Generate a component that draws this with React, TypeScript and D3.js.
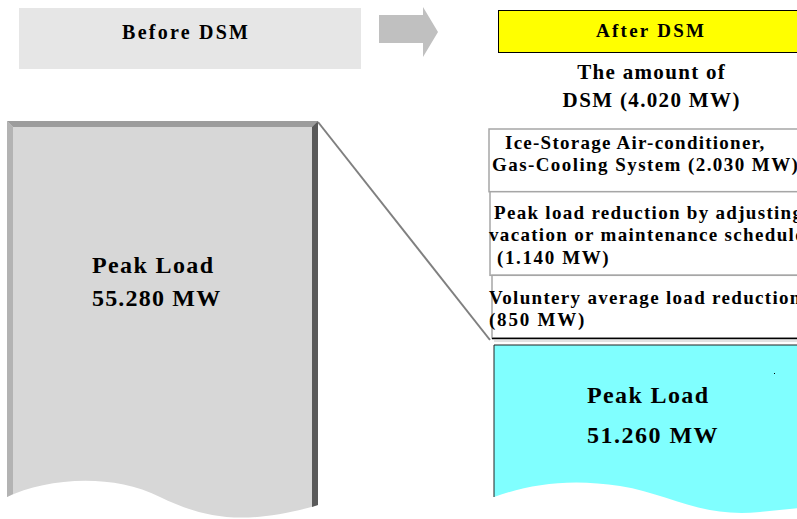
import { useEffect, useRef } from 'react';
import * as d3 from 'd3';

const STAGES = ['Before DSM', 'After DSM'];
const PEAK_LOAD_MW = [55280, 51260];
const DSM_LABELS = [
  ['Ice-Storage Air-conditioner,', 'Gas-Cooling System'],
  ['Peak load reduction by adjusting', 'vacation or maintenance schedule'],
  ['Voluntery average load reduction'],
];
const DSM_MW = [2030, 1140, 850];
const DSM_VALUE_ON_OWN_LINE = [false, true, true];

const SERIF = "'Liberation Serif', 'Times New Roman', serif";

export default function App() {
  const svgRef = useRef<SVGSVGElement>(null);

  useEffect(() => {
    const el = svgRef.current;
    if (!el) return;
    const svg = d3.select(el);
    svg.selectAll('*').remove();

    const W = 797;
    const H = 519;
    svg.attr('width', W).attr('height', H);

    // 55280 -> "55.280"
    const fmt = d3.formatLocale({ decimal: ',', thousands: '.', grouping: [3], currency: ['', ''] }).format(',d');

    // text helper: widens the glyph run like the original slide
    const addText = (
      x: number, y: number, str: string, size: number, stretch: number, anchor: 'start' | 'middle' = 'start',
    ) => {
      const t = svg.append('text')
        .attr('x', x).attr('y', y)
        .attr('font-family', SERIF).attr('font-weight', 700)
        .attr('font-size', size).attr('fill', '#000')
        .text(str);
      const natural = (t.node() as SVGTextElement).getComputedTextLength();
      const len = natural * stretch;
      if (stretch !== 1) t.attr('textLength', len).attr('lengthAdjust', 'spacing');
      if (anchor === 'middle') t.attr('x', x - len / 2);
      return t;
    };

    // header
    const stageX = d3.scaleOrdinal<string, number>().domain(STAGES).range([185, 650]);

    svg.append('rect').attr('x', 19).attr('y', 8).attr('width', 342).attr('height', 61).attr('fill', '#e6e6e6');
    svg.append('rect').attr('x', 498.5).attr('y', 10.5).attr('width', 310).attr('height', 42)
      .attr('fill', '#ffff00').attr('stroke', '#000').attr('stroke-width', 1);

    addText(stageX(STAGES[0]), 39, STAGES[0], 20, 1.19, 'middle');
    addText(stageX(STAGES[1]), 37, STAGES[1], 19, 1.2, 'middle');

    // arrow between stages
    svg.append('path')
      .attr('d', 'M379,15 L423,15 L423,7 L438,32 L423,57 L423,43 L379,43 Z')
      .attr('fill', '#c0c0c0');

    const total = d3.sum(DSM_MW);
    addText(stageX(STAGES[1]) + 1, 79, 'The amount of', 21, 1.12, 'middle');
    addText(stageX(STAGES[1]) + 1, 107, `DSM (${fmt(total)} MW)`, 21, 1.11, 'middle');

    // before: beveled peak load block with torn bottom
    const L = { x0: 7, x1: 318, y0: 121, b: 6 };
    const tornLeft = `L${L.x1},505 C240,528 200,516 160,497 C110,472 45,479 ${L.x0},497`;
    svg.append('path')
      .attr('d', `M${L.x0},${L.y0} L${L.x1},${L.y0} ${tornLeft} Z`)
      .attr('fill', '#d7d7d7');
    svg.append('path')
      .attr('d', `M${L.x0},${L.y0} L${L.x1},${L.y0} L${L.x1 - L.b},${L.y0 + L.b} L${L.x0 + L.b},${L.y0 + L.b} Z`)
      .attr('fill', '#9c9c9c');
    svg.append('path')
      .attr('d', `M${L.x0},${L.y0} L${L.x0 + L.b},${L.y0 + L.b} L${L.x0 + L.b},494 L${L.x0},497 Z`)
      .attr('fill', '#b3b3b3');
    svg.append('path')
      .attr('d', `M${L.x1},${L.y0} L${L.x1},505 L${L.x1 - L.b},507 L${L.x1 - L.b},${L.y0 + L.b} Z`)
      .attr('fill', '#5a5a5a');

    addText(92, 273, 'Peak Load', 24, 1.1);
    addText(92, 306, `${fmt(PEAK_LOAD_MW[0])} MW`, 24, 1.08);

    // zoom line
    svg.append('line')
      .attr('x1', L.x1).attr('y1', L.y0 + 1).attr('x2', 490).attr('y2', 340)
      .attr('stroke', '#808080').attr('stroke-width', 2);

    // DSM stack: box height follows its line count plus one line of padding
    const rowsPerBox = DSM_LABELS.map((l, i) => l.length + (DSM_VALUE_ON_OWN_LINE[i] ? 1 : 0));
    const weights = rowsPerBox.map((n) => n + 1);
    const cum = [0, ...d3.cumsum(weights)];
    const yStack = d3.scaleLinear().domain([0, cum[cum.length - 1]]).range([129, 338]);
    const boxLeft = [489, 490, 492];

    DSM_LABELS.forEach((_, i) => {
      const y0 = yStack(cum[i]);
      const y1 = yStack(cum[i + 1]);
      svg.append('rect')
        .attr('x', boxLeft[i]).attr('y', y0).attr('width', 330).attr('height', y1 - y0)
        .attr('fill', '#fff').attr('stroke', '#a6a6a6').attr('stroke-width', 1.5);
    });

    DSM_LABELS.forEach((lines, i) => {
      const y0 = yStack(cum[i]);
      const val = `(${fmt(DSM_MW[i])} MW)`;
      const rows = DSM_VALUE_ON_OWN_LINE[i]
        ? [...lines, val]
        : lines.map((s, j) => (j === lines.length - 1 ? `${s} ${val}` : s));
      const first = i === 0 ? 19.5 : i === 1 ? 27 : 28.5;
      rows.forEach((s, j) => {
        let x = 489;
        if (i === 0) x = j === 0 ? 505 : 492;
        else if (i === 1) x = j === 0 ? 494 : j === 1 ? 489 : 497;
        addText(x, y0 + first + j * 22.5, s, 19, 1.15);
      });
    });

    svg.append('line').attr('x1', 492).attr('x2', W).attr('y1', 338.5).attr('y2', 338.5)
      .attr('stroke', '#000').attr('stroke-width', 1.5);
    svg.append('line').attr('x1', 494).attr('x2', W).attr('y1', 341).attr('y2', 341)
      .attr('stroke', '#c8c8c8').attr('stroke-width', 1);

    // after: remaining peak load
    const C = { x0: 494, x1: 800, y0: 345 };
    svg.append('path')
      .attr('d', `M${C.x0},${C.y0} L${C.x1},${C.y0} L${C.x1},508 L760,512 C700,518 670,494 620,486 C570,478 530,484 ${C.x0},497 Z`)
      .attr('fill', '#80ffff');
    svg.append('path')
      .attr('d', `M${C.x0},497 L${C.x0},${C.y0} L${C.x1},${C.y0}`)
      .attr('fill', 'none').attr('stroke', '#222').attr('stroke-width', 1);
    svg.append('rect').attr('x', 774).attr('y', 373).attr('width', 1).attr('height', 1).attr('fill', '#000');

    addText(587, 403, 'Peak Load', 24, 1.1);
    addText(587, 443, `${fmt(PEAK_LOAD_MW[1])} MW`, 24, 1.1);
  }, []);

  return (
    <div style={{ position: 'absolute', left: 0, top: 0, width: 797, height: 519, background: '#fff' }}>
      <svg ref={svgRef} width={797} height={519} style={{ display: 'block' }} />
    </div>
  );
}
